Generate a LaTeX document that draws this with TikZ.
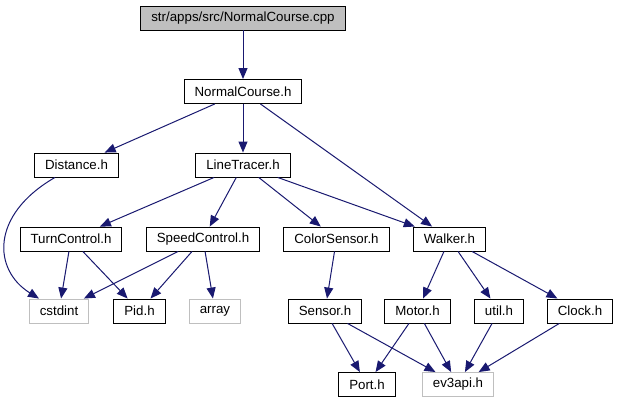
\documentclass[tikz,border=0pt]{standalone}
\usepackage{fontspec}
\setmainfont{Liberation Sans}
\usepackage{xcolor}
\usepackage{tikz}
\usetikzlibrary{arrows.meta}
\definecolor{edgeblue}{HTML}{191970}
\definecolor{extgray}{HTML}{BFBFBF}

\begin{document}
\begin{tikzpicture}[x=1pt,y=-1pt,font=\fontsize{13.3}{15}\selectfont,
  hdr/.style={draw=black,line width=0.9pt,inner xsep=10.5pt,inner ysep=0pt,minimum height=24pt},
  ext/.style={hdr,draw=extgray},
  dep/.style={draw=edgeblue,line width=1pt,-{Triangle[length=11pt,width=9pt]}}]
  \useasboundingbox (0,0) rectangle (619,403);
  % files
  \node[hdr,fill=extgray] (cpp) at (243,18) {str/apps/src/NormalCourse.cpp};
  \node[hdr] (course) at (243,91.5) {NormalCourse.h};
  \node[hdr] (dist) at (76.5,165) {Distance.h};
  \node[hdr] (tracer) at (243,165) {LineTracer.h};
  \node[hdr] (turn) at (71,239) {TurnControl.h};
  \node[hdr] (speed) at (203,239) {SpeedControl.h};
  \node[hdr] (color) at (336.5,239) {ColorSensor.h};
  \node[hdr] (walker) at (449.5,239) {Walker.h};
  \node[ext] (cst) at (59,311) {cstdint};
  \node[hdr] (pid) at (139.5,311) {Pid.h};
  \node[ext] (arr) at (215,311) {array};
  \node[hdr] (sensor) at (325,311) {Sensor.h};
  \node[hdr] (motor) at (417.5,311) {Motor.h};
  \node[hdr] (util) at (499,311) {util.h};
  \node[hdr] (clock) at (580,311) {Clock.h};
  \node[hdr] (port) at (367,384.5) {Port.h};
  \node[ext] (api) at (458,384.5) {ev3api.h};
  % includes
  \draw[dep] (cpp) -- (course);
  \foreach \t in {dist,tracer,walker}{\draw[dep] (course) -- (\t);}
  \draw[dep] (dist) .. controls (-10,215) and (-7,270) .. (cst);
  \foreach \t in {turn,speed,color,walker}{\draw[dep] (tracer) -- (\t);}
  \foreach \t in {cst,pid}{\draw[dep] (turn) -- (\t);}
  \foreach \t in {cst,pid,arr}{\draw[dep] (speed) -- (\t);}
  \draw[dep] (color) -- (sensor);
  \foreach \t in {motor,util,clock}{\draw[dep] (walker) -- (\t);}
  \foreach \t in {port,api}{\draw[dep] (sensor) -- (\t);}
  \foreach \t in {port,api}{\draw[dep] (motor) -- (\t);}
  \draw[dep] (util) -- (api);
  \draw[dep] (clock) -- (api);
\end{tikzpicture}
\end{document}
